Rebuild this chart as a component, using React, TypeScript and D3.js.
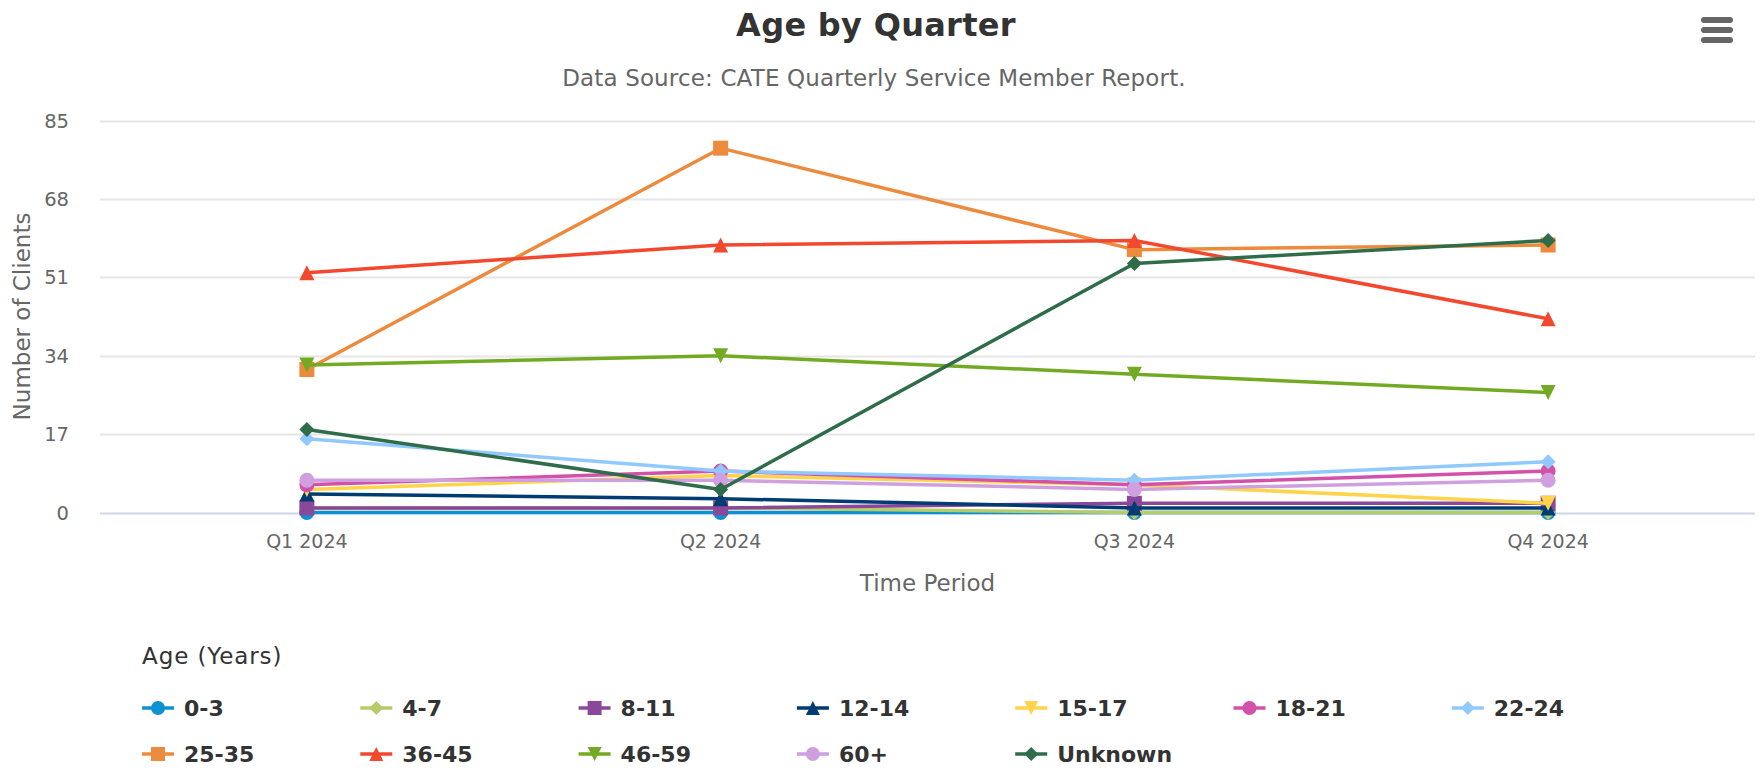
import React from "react";
import * as d3 from "d3";

const quarters = ["Q1 2024", "Q2 2024", "Q3 2024", "Q4 2024"];
const seriesNames = ["0-3", "4-7", "8-11", "12-14", "15-17", "18-21", "22-24", "25-35", "36-45", "46-59", "60+", "Unknown"];
const age0to3 = [0, 0, 0, 0];
const age4to7 = [1, 1, 0, 0];
const age8to11 = [1, 1, 2, 2];
const age12to14 = [4, 3, 1, 1];
const age15to17 = [5, 8, 6, 2];
const age18to21 = [6, 9, 6, 9];
const age22to24 = [16, 9, 7, 11];
const age25to35 = [31, 79, 57, 58];
const age36to45 = [52, 58, 59, 42];
const age46to59 = [32, 34, 30, 26];
const age60plus = [7, 7, 5, 7];
const ageUnknown = [18, 5, 54, 59];
const seriesValues = [age0to3, age4to7, age8to11, age12to14, age15to17, age18to21, age22to24, age25to35, age36to45, age46to59, age60plus, ageUnknown];
const seriesColors = ["#0e91d1", "#b6cb6a", "#8b4799", "#003b71", "#fed54a", "#d451a9", "#90c9fd", "#ec8b3e", "#f2482e", "#73aa24", "#cf9fdf", "#2e6c4a"];
const symbolCycle = ["circle", "diamond", "square", "triangle", "triangle-down"];
const yTicks = [0, 17, 34, 51, 68, 85];

const W = 1760, H = 775;
const FONT = "'DejaVu Sans', sans-serif";
const plotLeft = 100, plotRight = 1755, plotTop = 120.5, plotBottom = 512.5;

function markerPath(sym: string, x: number, y: number, r: number): string {
  switch (sym) {
    case "circle": {
      const p = d3.path();
      p.arc(x, y, r, 0, Math.PI * 2);
      p.closePath();
      return p.toString();
    }
    case "square":
      return `M${x - r},${y - r}H${x + r}V${y + r}H${x - r}Z`;
    case "diamond":
      return `M${x},${y - r}L${x + r},${y}L${x},${y + r}L${x - r},${y}Z`;
    case "triangle":
      return `M${x},${y - r}L${x + r},${y + r}L${x - r},${y + r}Z`;
    default:
      return `M${x - r},${y - r}L${x + r},${y - r}L${x},${y + r}Z`;
  }
}

export default function App() {
  const x = d3.scalePoint<string>().domain(quarters).range([plotLeft, plotRight]).padding(0.5);
  const y = d3.scaleLinear().domain([0, 85]).range([plotBottom, plotTop]);
  const line = d3.line<number>().x((_, i) => x(quarters[i]) as number).y((d) => y(d));
  const r = 7.5;

  return (
    <svg width={W} height={H} style={{ position: "absolute", left: 0, top: 0, background: "#fff" }} fontFamily={FONT}>
      <rect x={0} y={0} width={W} height={H} fill="#fff" />
      <text x={876} y={36} textAnchor="middle" fontSize={32} fontWeight={700} fill="#333" letterSpacing={0.3}>Age by Quarter</text>
      <text x={874} y={86} textAnchor="middle" fontSize={23} fill="#666" letterSpacing={0.15}>Data Source: CATE Quarterly Service Member Report.</text>
      <g fill="#666">
        <rect x={1701} y={17} width={32} height={6} rx={3} />
        <rect x={1701} y={27} width={32} height={6} rx={3} />
        <rect x={1701} y={37} width={32} height={6} rx={3} />
      </g>
      {yTicks.map((t) => (
        <g key={t}>
          {t !== 0 && <line x1={plotLeft} x2={plotRight} y1={Math.round(y(t)) + 0.5} y2={Math.round(y(t)) + 0.5} stroke="#e6e6e6" strokeWidth={2} />}
          <text x={69} y={y(t)} dy="0.36em" textAnchor="end" fontSize={19.5} fill="#666">{t}</text>
        </g>
      ))}
      <line x1={plotLeft} x2={plotRight} y1={Math.round(y(0)) + 0.5} y2={Math.round(y(0)) + 0.5} stroke="#ccd6eb" strokeWidth={2} />
      {quarters.map((q) => (
        <text key={q} x={x(q)} y={548} textAnchor="middle" fontSize={19} fill="#666">{q}</text>
      ))}
      <text x={(plotLeft + plotRight) / 2} y={591} textAnchor="middle" fontSize={23} fill="#666">Time Period</text>
      <text transform={`translate(30,${(plotTop + plotBottom) / 2}) rotate(-90)`} textAnchor="middle" fontSize={23} fill="#666">Number of Clients</text>
      {seriesValues.map((vals, si) => (
        <g key={seriesNames[si]}>
          <path d={line(vals) as string} fill="none" stroke={seriesColors[si]} strokeWidth={3.5} strokeLinejoin="round" strokeLinecap="round" />
          {vals.map((v, i) => (
            <path key={i} d={markerPath(symbolCycle[si % 5], x(quarters[i]) as number, y(v), r)} fill={seriesColors[si]} />
          ))}
        </g>
      ))}
      <text x={142} y={664} fontSize={23} fill="#333" letterSpacing={0.9}>Age (Years)</text>
      {seriesNames.map((name, i) => {
        const col = i % 7, row = Math.floor(i / 7);
        const lx = 142 + col * 218.3;
        const ly = 708 + row * 46;
        return (
          <g key={name}>
            <line x1={lx} x2={lx + 32} y1={ly} y2={ly} stroke={seriesColors[i]} strokeWidth={3.5} />
            <path d={markerPath(symbolCycle[i % 5], lx + 16, ly, 7)} fill={seriesColors[i]} />
            <text x={lx + 42} y={ly} dy="0.36em" fontSize={22} fontWeight={700} fill="#333">{name}</text>
          </g>
        );
      })}
    </svg>
  );
}
